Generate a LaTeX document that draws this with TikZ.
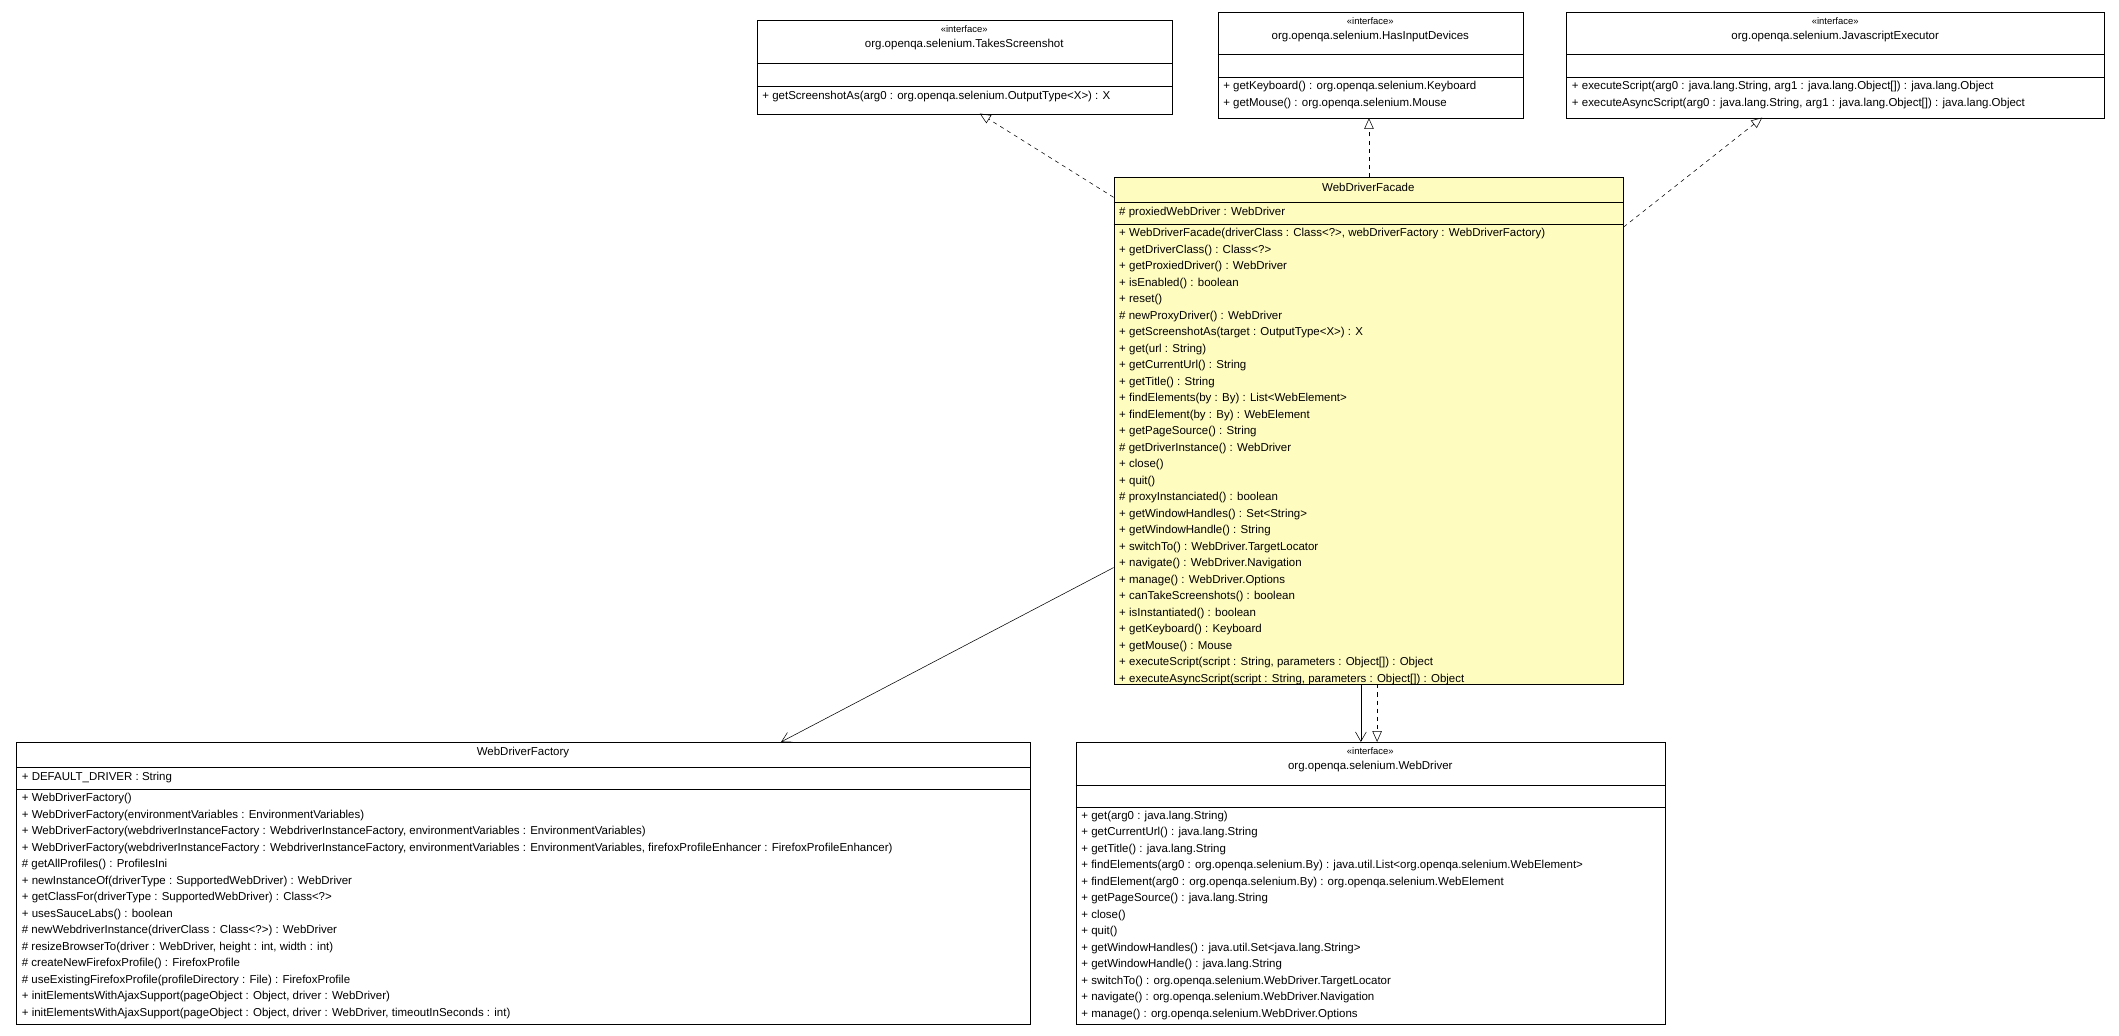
\documentclass[tikz,border=0pt]{standalone}
\usepackage{fontspec}
\setmainfont{Liberation Sans}
\usetikzlibrary{arrows.meta,positioning,calc}
\newcommand{\stereo}{{\fontsize{7}{8}\selectfont\guillemotleft interface\guillemotright}}
\tikzset{
  box/.style={draw, anchor=north west, inner sep=0pt},
  facade/.style={box, fill=yellow!25!white},
  title/.style={anchor=north, inner sep=0pt, align=center, font=\fontsize{8.5}{11}\selectfont},
  members/.style={anchor=north west, inner sep=0pt, align=left, font=\fontsize{8.5}{12.2}\selectfont},
  realize/.style={draw, dashed, -{Triangle[open,length=8pt,width=7pt]}},
  assoc/.style={draw, -{Straight Barb[length=7pt,width=8pt]}}
}
\begin{document}
\begin{tikzpicture}[x=1pt,y=-1pt]
        \useasboundingbox (0,0) rectangle (1568,766);
        %class boxes
        \node[box, minimum width=307, minimum height=69] (shot) at (560,15) {};
        \node[box, minimum width=226, minimum height=78] (dev) at (901,9) {};
        \node[box, minimum width=398, minimum height=78] (js) at (1159,9) {};
        \node[facade, minimum width=377, minimum height=375] (fac) at (824,131) {};
        \node[box, minimum width=750, minimum height=209] (fact) at (12,549) {};
        \node[box, minimum width=436, minimum height=209] (drv) at (796,549) {};
        %compartment lines
        \draw (560,47) -- (867,47) (560,64) -- (867,64);
        \draw (901,40) -- (1127,40) (901,57) -- (1127,57);
        \draw (1159,40) -- (1557,40) (1159,57) -- (1557,57);
        \draw (824,150) -- (1201,150) (824,166) -- (1201,166);
        \draw (12,568) -- (762,568) (12,584) -- (762,584);
        \draw (796,581) -- (1232,581) (796,597) -- (1232,597);
        %titles
        \node[title] (shott) at (713.5,19) {\stereo\\org.openqa.selenium.TakesScreenshot};
        \node[title] (devt) at (1014,13) {\stereo\\org.openqa.selenium.HasInputDevices};
        \node[title] (jst) at (1358,13) {\stereo\\org.openqa.selenium.JavascriptExecutor};
        \node[title] (fact) at (1012.5,135) {WebDriverFacade};
        \node[title] (factt) at (387,553) {WebDriverFactory};
        \node[title] (drvt) at (1014,553) {\stereo\\org.openqa.selenium.WebDriver};
        %members
        \node[members] (shotm) at (564,67) {+ getScreenshotAs(arg0 : org.openqa.selenium.OutputType<X>) : X};
        \node[members] (devm) at (905,60) {+ getKeyboard() : org.openqa.selenium.Keyboard\\+ getMouse() : org.openqa.selenium.Mouse};
        \node[members] (jsm) at (1163,60) {+ executeScript(arg0 : java.lang.String, arg1 : java.lang.Object[]) : java.lang.Object\\+ executeAsyncScript(arg0 : java.lang.String, arg1 : java.lang.Object[]) : java.lang.Object};
        \node[members] (facf) at (828,153) {\# proxiedWebDriver : WebDriver};
        \node[members] (facm) at (828,169) {+ WebDriverFacade(driverClass : Class<?>, webDriverFactory : WebDriverFactory)\\+ getDriverClass() : Class<?>\\+ getProxiedDriver() : WebDriver\\+ isEnabled() : boolean\\+ reset()\\\# newProxyDriver() : WebDriver\\+ getScreenshotAs(target : OutputType<X>) : X\\+ get(url : String)\\+ getCurrentUrl() : String\\+ getTitle() : String\\+ findElements(by : By) : List<WebElement>\\+ findElement(by : By) : WebElement\\+ getPageSource() : String\\\# getDriverInstance() : WebDriver\\+ close()\\+ quit()\\\# proxyInstanciated() : boolean\\+ getWindowHandles() : Set<String>\\+ getWindowHandle() : String\\+ switchTo() : WebDriver.TargetLocator\\+ navigate() : WebDriver.Navigation\\+ manage() : WebDriver.Options\\+ canTakeScreenshots() : boolean\\+ isInstantiated() : boolean\\+ getKeyboard() : Keyboard\\+ getMouse() : Mouse\\+ executeScript(script : String, parameters : Object[]) : Object\\+ executeAsyncScript(script : String, parameters : Object[]) : Object};
        \node[members] (factf) at (16,571) {+ DEFAULT\_DRIVER : String};
        \node[members] (factm) at (16,587) {+ WebDriverFactory()\\+ WebDriverFactory(environmentVariables : EnvironmentVariables)\\+ WebDriverFactory(webdriverInstanceFactory : WebdriverInstanceFactory, environmentVariables : EnvironmentVariables)\\+ WebDriverFactory(webdriverInstanceFactory : WebdriverInstanceFactory, environmentVariables : EnvironmentVariables, firefoxProfileEnhancer : FirefoxProfileEnhancer)\\\# getAllProfiles() : ProfilesIni\\+ newInstanceOf(driverType : SupportedWebDriver) : WebDriver\\+ getClassFor(driverType : SupportedWebDriver) : Class<?>\\+ usesSauceLabs() : boolean\\\# newWebdriverInstance(driverClass : Class<?>) : WebDriver\\\# resizeBrowserTo(driver : WebDriver, height : int, width : int)\\\# createNewFirefoxProfile() : FirefoxProfile\\\# useExistingFirefoxProfile(profileDirectory : File) : FirefoxProfile\\+ initElementsWithAjaxSupport(pageObject : Object, driver : WebDriver)\\+ initElementsWithAjaxSupport(pageObject : Object, driver : WebDriver, timeoutInSeconds : int)};
        \node[members] (drvm) at (800,600) {+ get(arg0 : java.lang.String)\\+ getCurrentUrl() : java.lang.String\\+ getTitle() : java.lang.String\\+ findElements(arg0 : org.openqa.selenium.By) : java.util.List<org.openqa.selenium.WebElement>\\+ findElement(arg0 : org.openqa.selenium.By) : org.openqa.selenium.WebElement\\+ getPageSource() : java.lang.String\\+ close()\\+ quit()\\+ getWindowHandles() : java.util.Set<java.lang.String>\\+ getWindowHandle() : java.lang.String\\+ switchTo() : org.openqa.selenium.WebDriver.TargetLocator\\+ navigate() : org.openqa.selenium.WebDriver.Navigation\\+ manage() : org.openqa.selenium.WebDriver.Options};
        %edges
        \path [realize] (fac.north west |- 0,146) to (725,84);
        \path [realize] (1013,131) to (dev.south -| 1013,0);
        \path [realize] (fac.east |- 0,168) to (1304,87);
        \path [assoc] (fac.west |- 0,420) to (578,549);
        \path [assoc] (fac.south -| 1007,0) to (drv.north -| 1007,0);
        \path [realize] (fac.south -| 1019,0) to (drv.north -| 1019,0);
\end{tikzpicture}
\end{document}
